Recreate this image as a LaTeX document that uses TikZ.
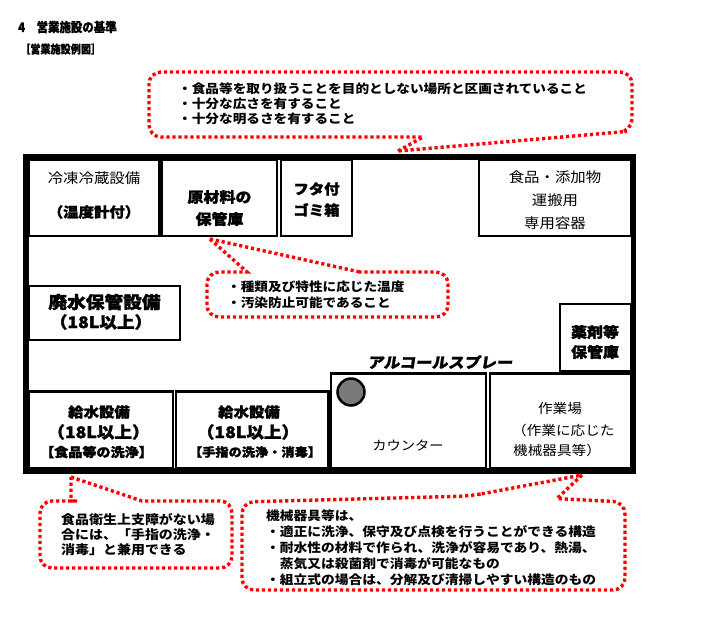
\documentclass[tikz,border=0pt]{standalone}
\usepackage{fontspec}
\newfontfamily\jp[FakeStretch=1.1]{Noto Sans CJK JP}
\newfontfamily\jph[FakeStretch=1.1,BoldFeatures={FakeBold=1.6}]{Noto Sans CJK JP}
\newfontfamily\jpc[FakeStretch=0.88,BoldFeatures={FakeBold=0.8}]{Noto Sans CJK JP}
\begin{document}
\begin{tikzpicture}[x=1pt,y=-1pt,
  room/.style={draw=black, line width=2.4pt},
  frame/.style={draw=black, line width=5.5pt},
  callout/.style={draw=red, line width=3.4pt, dash pattern=on 3.2pt off 2.8pt},
  lbl/.style={inner sep=0pt, font=\jp\fontsize{14}{16}\selectfont},
  blbl/.style={inner sep=0pt, font=\jph\bfseries\fontsize{14.5}{16}\selectfont},
  ctext/.style={inner sep=0pt, align=left, anchor=west}]
\useasboundingbox[fill=white] (0,0) rectangle (714,625);

% titles
\node[anchor=west, inner sep=0pt, font=\jpc\bfseries\fontsize{13}{15}\selectfont] (title) at (18,27) {4　営業施設の基準};
\node[anchor=west, inner sep=0pt, font=\jpc\bfseries\fontsize{11.5}{13}\selectfont] (sub) at (20,49) {［営業施設例図］};

% rooms
\draw[room] (29,160) rectangle (159,236);
\draw[room] (161.5,160) rectangle (277,236);
\draw[room] (281,160) rectangle (352,236);
\draw[room] (479,160) rectangle (631,236);
\draw[room] (29,286) rectangle (180,340);
\draw[room] (560,304) rectangle (631,371.5);
\draw[room] (29,391.5) rectangle (173,468);
\draw[room] (176,391.5) rectangle (328.5,468);
\draw[room] (331,373.5) rectangle (486,468);
\draw[room] (490,373.5) rectangle (631,468);
\draw[frame] (26,157) rectangle (633.5,471);
\draw[line width=2.5pt, fill=black!52] (351,392) circle[radius=13.5pt];

% room labels
\node[lbl] (reito) at (94,178) {冷凍冷蔵設備};
\node[blbl, font=\jph\bfseries\fontsize{14}{16}\selectfont] (ondo) at (94,212) {（温度計付）};
\node[blbl] (gen1) at (219.5,197) {原材料の};
\node[blbl] (gen2) at (219.5,219) {保管庫};
\node[blbl, font=\jph\bfseries\fontsize{14}{16}\selectfont] (futa1) at (316.5,189) {フタ付};
\node[blbl, font=\jph\bfseries\fontsize{14}{16}\selectfont] (futa2) at (316.5,210) {ゴミ箱};
\node[lbl] (shoku1) at (555,177) {食品・添加物};
\node[lbl] (shoku2) at (555,200) {運搬用};
\node[lbl] (shoku3) at (555,223) {専用容器};
\node[blbl, font=\jph\bfseries\fontsize{17}{19}\selectfont] (hai1) at (104.5,302) {廃水保管設備};
\node[blbl, font=\jph\bfseries\fontsize{16}{18}\selectfont] (hai2) at (101,322) {（18L以上）};
\node[blbl] (yaku1) at (595,332) {薬剤等};
\node[blbl] (yaku2) at (595,352) {保管庫};
\node[blbl, font=\jph\bfseries\addfontfeature{FakeSlant=0.15}\fontsize{14.7}{16}\selectfont] (alc) at (440,362) {アルコールスプレー};
\node[blbl, font=\jph\bfseries\fontsize{14}{16}\selectfont] (kyu1a) at (99,412) {給水設備};
\node[blbl, font=\jph\bfseries\fontsize{16}{18}\selectfont] (kyu1b) at (98.5,432) {（18L以上）};
\node[blbl, font=\jph\bfseries\fontsize{12.8}{15}\selectfont] (kyu1c) at (96.5,452) {【食品等の洗浄】};
\node[blbl, font=\jph\bfseries\fontsize{14}{16}\selectfont] (kyu2a) at (249,412) {給水設備};
\node[blbl, font=\jph\bfseries\fontsize{16}{18}\selectfont] (kyu2b) at (248,432) {（18L以上）};
\node[blbl, font=\jph\bfseries\fontsize{12}{15}\selectfont] (kyu2c) at (255,452) {【手指の洗浄・消毒】};
\node[lbl, font=\jp\fontsize{13}{15}\selectfont] (counter) at (408,445) {カウンター};
\node[lbl, font=\jp\fontsize{13.3}{15}\selectfont] (saku1) at (560,408) {作業場};
\node[lbl, font=\jp\fontsize{13.3}{15}\selectfont, anchor=west] (saku2) at (512,430) {（作業に応じた};
\node[lbl, font=\jp\fontsize{13.3}{15}\selectfont, anchor=west] (saku3) at (513,450) {機械器具等）};

% top callout
\draw[callout] (398,151) -- (423,137) -- (415,137) [rounded corners=12pt] -- (149,137) -- (149,72) -- (632,72) -- (632,131) -- (615,132.45) [sharp corners] -- (398,151);
\node[ctext, font=\jp\bfseries\fontsize{12.4}{15}\selectfont] (c1) at (178,104) {・食品等を取り扱うことを目的としない場所と区画されていること\\・十分な広さを有すること\\・十分な明るさを有すること};

% middle callout
\draw[callout] (210,239) -- (247,272) -- (240,272) [rounded corners=12pt] -- (207,272) -- (207,317) -- (448,317) -- (448,272) -- (370,272) [sharp corners] -- (360,272) -- (210,239);
\node[ctext, font=\jp\bfseries\fontsize{12.4}{16}\selectfont] (c2) at (227,295) {・種類及び特性に応じた温度\\・汚染防止可能であること};

% bottom-left callout
\draw[callout] (71,477) -- (142,501) -- (150,501) [rounded corners=12pt] -- (232,501) -- (232,568) -- (40,568) -- (40,501) -- (65,501) [sharp corners] -- (71,501) -- (71,477);
\node[ctext, font=\jp\bfseries\fontsize{12.7}{15}\selectfont] (c3) at (61,535) {食品衛生上支障がない場\\合には、「手指の洗浄・\\消毒」と兼用できる};

% bottom-right callout
\draw[callout] (582,475) -- (557,498.5) -- (565,499) [rounded corners=12pt] -- (625,502) -- (625,590) -- (242,590) -- (242,502) -- (470,496) -- (490,492.25) [sharp corners] -- (582,475);
\node[ctext, font=\jp\bfseries\fontsize{12.5}{16}\selectfont] (c4) at (266,548) {機械器具等は、\\・適正に洗浄、保守及び点検を行うことができる構造\\・耐水性の材料で作られ、洗浄が容易であり、熱湯、\\　蒸気又は殺菌剤で消毒が可能なもの\\・組立式の場合は、分解及び清掃しやすい構造のもの};
\end{tikzpicture}
\end{document}
